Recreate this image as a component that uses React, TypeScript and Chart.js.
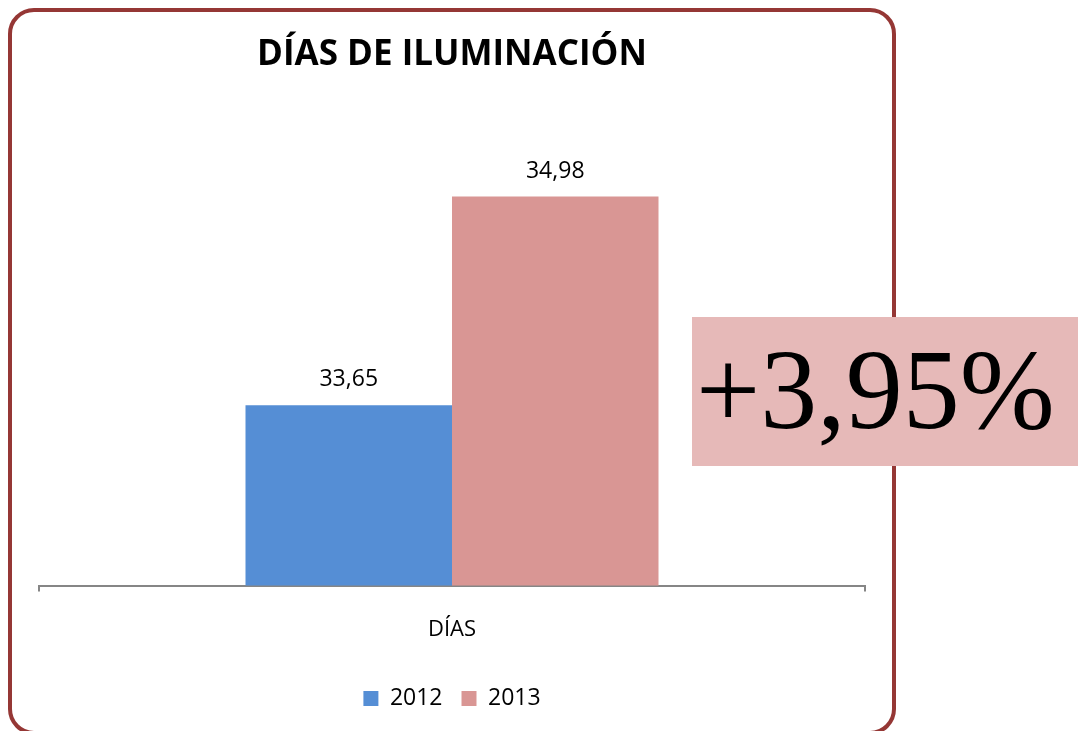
import React, { useEffect, useRef } from "react";
import { Chart, registerables } from "chart.js";

Chart.register(...registerables);

const categories = ["DÍAS"];
const seriesNames = ["2012", "2013"];
const values2012 = [33.65];
const values2013 = [34.98];
const yMin = 32.5;
const yMax = 35.5;
const titleText = "DÍAS DE ILUMINACIÓN";
const changeText = "+3,95%";

const FONT = "'Open Sans', 'Noto Sans', sans-serif";

const valueLabels = {
  id: "valueLabels",
  afterDatasetsDraw(chart: any) {
    const ctx = chart.ctx;
    ctx.save();
    ctx.font = `23px ${FONT}`;
    ctx.fillStyle = "#000000";
    ctx.textAlign = "center";
    ctx.textBaseline = "alphabetic";
    chart.data.datasets.forEach((ds: any, i: number) => {
      const meta = chart.getDatasetMeta(i);
      meta.data.forEach((el: any, j: number) => {
        const v = ds.data[j] as number;
        ctx.fillText(v.toFixed(2).replace(".", ","), el.x, el.y - 19);
      });
    });
    ctx.restore();
  },
};

export default function App() {
  const ref = useRef<HTMLCanvasElement>(null);
  useEffect(() => {
    if (!ref.current) return;
    const chart = new Chart(ref.current, {
      type: "bar",
      data: {
        labels: categories,
        datasets: [
          {
            label: seriesNames[0],
            data: values2012,
            backgroundColor: "#558ED5",
            categoryPercentage: 0.5,
            barPercentage: 1,
          },
          {
            label: seriesNames[1],
            data: values2013,
            backgroundColor: "#D99694",
            categoryPercentage: 0.5,
            barPercentage: 1,
          },
        ],
      },
      options: {
        animation: false,
        responsive: false,
        maintainAspectRatio: false,
        layout: { padding: { left: 31, right: 31, top: 0, bottom: 11 } },
        plugins: {
          title: {
            display: true,
            text: titleText,
            color: "#000000",
            font: { family: FONT, size: 35, weight: "bold" },
            padding: { top: 26, bottom: 39 },
          },
          legend: {
            position: "bottom",
            labels: {
              color: "#000000",
              font: { family: FONT, size: 23 },
              boxWidth: 15,
              boxHeight: 15,
              padding: 19,
            },
          },
          tooltip: { enabled: false },
        },
        scales: {
          x: {
            grid: {
              display: true,
              drawOnChartArea: false,
              drawTicks: true,
              tickLength: 6,
              color: "#868686",
              lineWidth: 2,
            },
            border: { display: true, color: "#868686", width: 2 },
            ticks: {
              color: "#000000",
              font: { family: FONT, size: 22 },
              padding: 25,
            },
          },
          y: {
            display: false,
            min: yMin,
            max: yMax,
          },
        },
      },
      plugins: [valueLabels],
    });
    return () => chart.destroy();
  }, []);

  return (
    <div
      style={{
        position: "fixed",
        left: 0,
        top: 0,
        width: 1078,
        height: 731,
        overflow: "hidden",
        background: "#ffffff",
      }}
    >
      <div
        style={{
          position: "absolute",
          left: 8,
          top: 8,
          width: 888,
          height: 727,
          boxSizing: "border-box",
          border: "4px solid #953735",
          borderRadius: 26,
        }}
      />
      <canvas
        ref={ref}
        width={888}
        height={723}
        style={{ position: "absolute", left: 8, top: 8, width: 888, height: 723 }}
      />
      <div
        style={{
          position: "absolute",
          left: 692,
          top: 317,
          width: 386,
          height: 149,
          background: "#E6B9B8",
          color: "#000000",
          fontFamily: "'Liberation Serif', 'Times New Roman', serif",
          fontSize: 114,
          lineHeight: "145px",
          textAlign: "left",
          paddingLeft: 4,
          boxSizing: "border-box",
          whiteSpace: "nowrap",
          overflow: "hidden",
        }}
      >
        {changeText}
      </div>
    </div>
  );
}
